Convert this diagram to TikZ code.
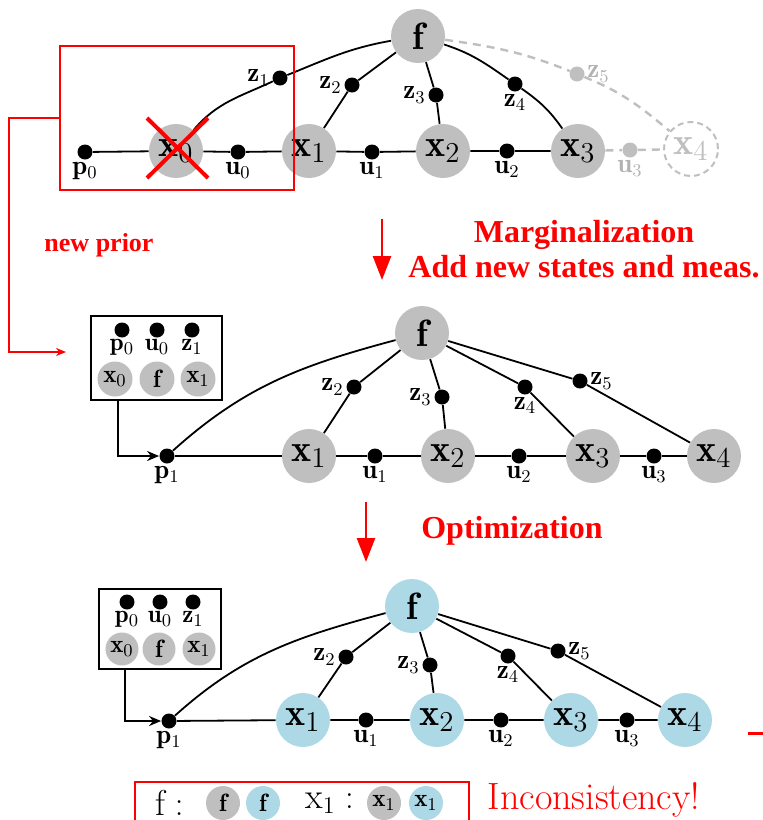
\documentclass[tikz,border=0pt]{standalone}
\usepackage{fontspec}
\newfontfamily\timesfont{Liberation Serif}
\usetikzlibrary{arrows.meta}
\definecolor{optblue}{RGB}{173,216,230}
\begin{document}
\begin{tikzpicture}[x=0.5pt,y=-0.5pt,
    state/.style={circle,fill=gray!50,inner sep=0pt,minimum size=27pt,font=\fontsize{19}{19}\selectfont},
    optstate/.style={state,fill=optblue},
    ghost/.style={state,fill=white,draw=black!25,dash pattern=on 3pt off 2pt,line width=1pt,text=black!25},
    fact/.style={circle,fill=black,inner sep=0pt,minimum size=7.5pt},
    gfact/.style={fact,fill=black!25},
    lab/.style={font=\fontsize{13.5}{13.5}\selectfont,inner sep=1pt},
    glab/.style={lab,text=black!30},
    slab/.style={font=\fontsize{12.5}{12.5}\selectfont,inner sep=0.5pt},
    mini/.style={circle,fill=gray!50,inner sep=0pt,minimum size=17.5pt,font=\fontsize{12.5}{12.5}\selectfont},
    edge/.style={line width=0.9pt},
    gedge/.style={line width=1.2pt,black!25,dash pattern=on 4pt off 3pt},
    priorbox/.style={draw,line width=1pt,inner sep=0pt},
    arr/.style={edge,-{Stealth[length=6pt,width=5pt]}},
    redtxt/.style={text=red,font=\timesfont\bfseries\fontsize{16}{17.5}\selectfont,align=center},
    bigarrow/.style={red,line width=1.3pt,-{Triangle[length=12pt,width=9pt]}}]
  \useasboundingbox (0,0) rectangle (763,820);
  \clip (0,0) rectangle (763,820);

  % before marginalization
  \node[fact,label={[lab]below:$\mathbf{p}_0$}] (p0) at (85,152) {};
  \node[state] (x0) at (176,151) {$\mathbf{x}_0$};
  \node[fact,label={[lab]below:$\mathbf{u}_0$}] (u0) at (238,152) {};
  \node[state] (x1) at (309,151) {$\mathbf{x}_1$};
  \node[fact,label={[lab]below:$\mathbf{u}_1$}] (u1) at (372,152) {};
  \node[state] (x2) at (443,151) {$\mathbf{x}_2$};
  \node[fact,label={[lab]below:$\mathbf{u}_2$}] (u2) at (507,151) {};
  \node[state] (x3) at (578,151) {$\mathbf{x}_3$};
  \node[gfact,label={[glab]below:$\mathbf{u}_3$}] (u3) at (630,150) {};
  \node[ghost] (x4) at (691,149) {$\mathbf{x}_4$};
  \node[state] (f) at (418,36) {$\mathbf{f}$};
  \node[fact,label={[lab]left:$\mathbf{z}_1$}] (z1) at (280,78) {};
  \node[fact,label={[lab]left:$\mathbf{z}_2$}] (z2) at (352,85) {};
  \node[fact,label={[lab]left:$\mathbf{z}_3$}] (z3) at (436,95) {};
  \node[fact,label={[lab]below:$\mathbf{z}_4$}] (z4) at (515,84) {};
  \node[gfact,label={[glab]right:$\mathbf{z}_5$}] (z5) at (577,74) {};
  \draw[edge] (p0) -- (x0) -- (u0) -- (x1) -- (u1) -- (x2) -- (u2) -- (x3);
  \draw[edge] (x0) to[out=50,in=205] (z1) to[out=22,in=190] (f);
  \draw[edge] (x1) -- (z2) -- (f);
  \draw[edge] (x2) -- (z3) -- (f);
  \draw[edge] (f) to[out=-18,in=145] (z4) to[out=-35,in=125] (x3);
  \draw[gedge] (x3) -- (u3) -- (x4);
  \draw[gedge] (f) to[out=-8,in=158] (z5) to[out=-22,in=140] (x4);
  \draw[red,line width=2pt] ([shift={(-29,-33)}]x0.center) -- ([shift={(32,27)}]x0.center);
  \draw[red,line width=2pt] ([shift={(32,-33)}]x0.center) -- ([shift={(-29,27)}]x0.center);
  \node[draw=red,line width=1pt,inner sep=0pt,minimum width=117pt,minimum height=72pt] (margbox) at (177,118) {};
  \coordinate (priortip) at (66,352);
  \draw[red,line width=1pt,-{Stealth[length=5pt,width=4pt]}] (margbox.west) -- ++(-50,0) |- (priortip);
  \node[redtxt,font=\timesfont\bfseries\fontsize{13}{13}\selectfont] (newprior) at (99,245) {new prior};

  \coordinate (a1top) at (382,219);
  \coordinate (a1bot) at (382,280);
  \draw[bigarrow] (a1top) -- (a1bot);
  \node[redtxt] (margtxt) at (584,249) {Marginalization\\Add new states and meas.};

  % after marginalization
  \node[priorbox,minimum width=65.5pt,minimum height=42pt] (mprior) at (156.5,358) {};
  \node[fact,label={[slab]below:$\mathbf{p}_0$}] (mpp0) at (122,330) {};
  \node[fact,label={[slab]below:$\mathbf{u}_0$}] (mpu0) at (157,330) {};
  \node[fact,label={[slab]below:$\mathbf{z}_1$}] (mpz1) at (192,330) {};
  \node[mini] (mpx0) at (115,379) {$\mathbf{x}_0$};
  \node[mini] (mpf) at (157,379) {$\mathbf{f}$};
  \node[mini] (mpx1) at (198,379) {$\mathbf{x}_1$};
  \node[fact,label={[lab]below:$\mathbf{p}_1$}] (mp1) at (167,456) {};
  \node[state] (mx1) at (309,456) {$\mathbf{x}_1$};
  \node[fact,label={[lab]below:$\mathbf{u}_1$}] (mu1) at (375,456) {};
  \node[state] (mx2) at (448,456) {$\mathbf{x}_2$};
  \node[fact,label={[lab]below:$\mathbf{u}_2$}] (mu2) at (519,456) {};
  \node[state] (mx3) at (593,456) {$\mathbf{x}_3$};
  \node[fact,label={[lab]below:$\mathbf{u}_3$}] (mu3) at (654,456) {};
  \node[state] (mx4) at (714,456) {$\mathbf{x}_4$};
  \node[state] (mf) at (422,333) {$\mathbf{f}$};
  \node[fact,label={[lab]left:$\mathbf{z}_2$}] (mz2) at (354,387) {};
  \node[fact,label={[lab]left:$\mathbf{z}_3$}] (mz3) at (442,397) {};
  \node[fact,label={[lab]below:$\mathbf{z}_4$}] (mz4) at (525,387) {};
  \node[fact,label={[lab]right:$\mathbf{z}_5$}] (mz5) at (580,381) {};
  \draw[edge] (mp1) -- (mx1) -- (mu1) -- (mx2) -- (mu2) -- (mx3) -- (mu3) -- (mx4);
  \draw[edge] (mp1) to[out=42,in=195] (mf);
  \draw[edge] (mx1) -- (mz2) -- (mf);
  \draw[edge] (mx2) -- (mz3) -- (mf);
  \draw[edge] (mx3) -- (mz4) -- (mf);
  \draw[edge] (mx4) -- (mz5) -- (mf);
  \draw[arr] (mprior.south west) ++(28,0) |- (mp1);

  \coordinate (a2top) at (366,502);
  \coordinate (a2bot) at (366,562);
  \draw[bigarrow] (a2top) -- (a2bot);
  \node[redtxt] (opttxt) at (512,531) {Optimization};

  % after optimization
  \node[priorbox,minimum width=61pt,minimum height=40pt] (oprior) at (160,629) {};
  \node[fact,label={[slab]below:$\mathbf{p}_0$}] (opp0) at (127,602) {};
  \node[fact,label={[slab]below:$\mathbf{u}_0$}] (opu0) at (160,602) {};
  \node[fact,label={[slab]below:$\mathbf{z}_1$}] (opz1) at (193,602) {};
  \node[mini,minimum size=16.5pt] (opx0) at (122,649) {$\mathbf{x}_0$};
  \node[mini,minimum size=16.5pt] (opf) at (159,649) {$\mathbf{f}$};
  \node[mini,minimum size=16.5pt] (opx1) at (199,649) {$\mathbf{x}_1$};
  \node[fact,label={[lab]below:$\mathbf{p}_1$}] (op1) at (169,721) {};
  \node[optstate] (ox1) at (303,720) {$\mathbf{x}_1$};
  \node[fact,label={[lab]below:$\mathbf{u}_1$}] (ou1) at (366,720) {};
  \node[optstate] (ox2) at (437,720) {$\mathbf{x}_2$};
  \node[fact,label={[lab]below:$\mathbf{u}_2$}] (ou2) at (501,720) {};
  \node[optstate] (ox3) at (571,720) {$\mathbf{x}_3$};
  \node[fact,label={[lab]below:$\mathbf{u}_3$}] (ou3) at (627,720) {};
  \node[optstate] (ox4) at (685,720) {$\mathbf{x}_4$};
  \node[optstate] (of) at (412,606) {$\mathbf{f}$};
  \node[fact,label={[lab]left:$\mathbf{z}_2$}] (oz2) at (346,657) {};
  \node[fact,label={[lab]left:$\mathbf{z}_3$}] (oz3) at (430,665) {};
  \node[fact,label={[lab]below:$\mathbf{z}_4$}] (oz4) at (508,656) {};
  \node[fact,label={[lab]right:$\mathbf{z}_5$}] (oz5) at (558,651) {};
  \draw[edge] (op1) -- (ox1) -- (ou1) -- (ox2) -- (ou2) -- (ox3) -- (ou3) -- (ox4);
  \draw[edge] (op1) to[out=42,in=195] (of);
  \draw[edge] (ox1) -- (oz2) -- (of);
  \draw[edge] (ox2) -- (oz3) -- (of);
  \draw[edge] (ox3) -- (oz4) -- (of);
  \draw[edge] (ox4) -- (oz5) -- (of);
  \draw[arr] (oprior.south west) ++(27,0) |- (op1);
  \coordinate (dashl) at (748,733);
  \coordinate (dashr) at (763,733);
  \draw[red,line width=1.5pt] (dashl) -- (dashr);

  % comparison
  \node[draw=red,line width=1pt,inner sep=0pt,minimum width=167pt,minimum height=38pt] (cmpbox) at (302,820) {};
  \node[anchor=west,inner sep=0pt,font=\fontsize{18}{18}\selectfont] (cf) at (155,803) {$\mathrm{f}:$};
  \node[mini,minimum size=17pt] (cfg) at (223,803) {$\mathbf{f}$};
  \node[mini,minimum size=17pt,fill=optblue] (cfb) at (263,803) {$\mathbf{f}$};
  \node[anchor=west,inner sep=0pt,font=\fontsize{18}{18}\selectfont] (cx) at (305,803) {$\mathrm{x}_1:$};
  \node[mini,minimum size=17pt] (cxg) at (384,803) {$\mathbf{x}_1$};
  \node[mini,minimum size=17pt,fill=optblue] (cxb) at (426,803) {$\mathbf{x}_1$};
  \node[text=red,font=\fontsize{19}{19}\selectfont] (incons) at (594,800) {Inconsistency!};
\end{tikzpicture}
\end{document}
